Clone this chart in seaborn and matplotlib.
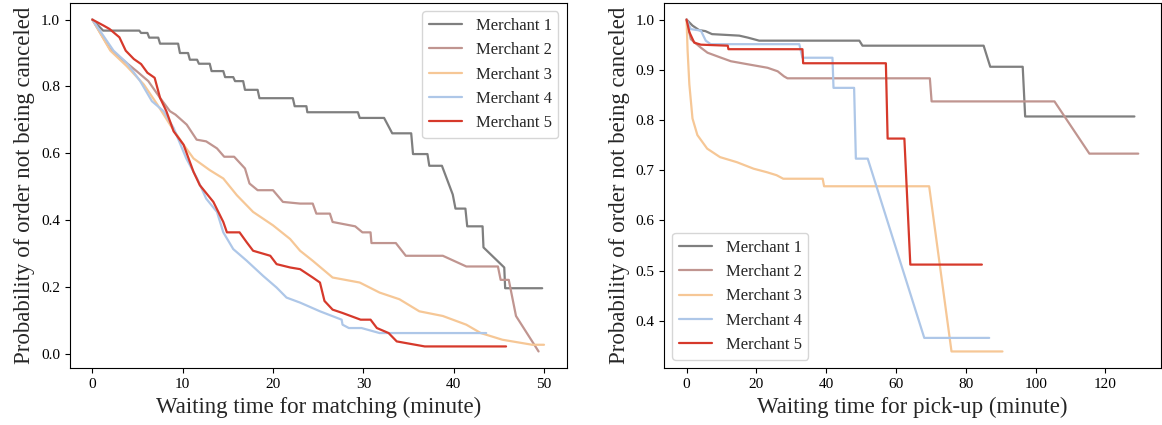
import numpy as np
import pandas as pd
import matplotlib
matplotlib.use("Agg")
import matplotlib.pyplot as plt
import seaborn as sns

merchants = ["Merchant 1", "Merchant 2", "Merchant 3", "Merchant 4", "Merchant 5"]
colors = ["#7f7f7f", "#c09590", "#f6c796", "#aec7e8", "#d6392b"]

# waiting time for matching (left panel)
match_t1 = [0, 1.2, 5.2, 5.4, 6.1, 6.3, 7.3, 7.5, 9.5, 9.7, 10.6, 10.8, 11.6, 11.8, 13.0, 13.2,
            14.5, 14.7, 15.6, 15.8, 16.7, 16.9, 18.3, 18.5, 22.2, 22.4, 23.7, 23.8, 29.4, 29.6,
            32.3, 33.2, 35.3, 35.5, 37.1, 37.3, 38.7, 39.9, 40.2, 41.3, 41.5, 43.2, 43.3, 45.6,
            45.7, 49.8]
match_p1 = [1.0, 0.967, 0.967, 0.96, 0.96, 0.946, 0.946, 0.928, 0.928, 0.90, 0.90, 0.88, 0.88,
            0.868, 0.868, 0.846, 0.846, 0.828, 0.828, 0.816, 0.816, 0.79, 0.79, 0.765, 0.765,
            0.741, 0.741, 0.723, 0.723, 0.706, 0.706, 0.66, 0.66, 0.598, 0.598, 0.563, 0.563,
            0.477, 0.435, 0.435, 0.382, 0.382, 0.319, 0.259, 0.197, 0.197]
match_t2 = [0, 2.0, 4.9, 6.2, 7.5, 8.6, 9.2, 10.45, 11.55, 12.6, 13.8, 14.6, 15.7, 16.9, 17.4,
            18.3, 20.0, 21.1, 23.0, 24.4, 24.8, 26.3, 26.6, 29.1, 29.9, 30.8, 30.9, 33.6, 34.7,
            38.8, 41.4, 44.9, 45.2, 46.1, 46.9, 49.4]
match_p2 = [1.0, 0.91, 0.846, 0.816, 0.766, 0.726, 0.716, 0.686, 0.641, 0.636, 0.615, 0.59,
            0.59, 0.555, 0.51, 0.49, 0.49, 0.455, 0.45, 0.45, 0.42, 0.42, 0.395, 0.382, 0.364,
            0.364, 0.332, 0.332, 0.294, 0.294, 0.262, 0.262, 0.222, 0.222, 0.114, 0.008]
match_t3 = [0, 2.0, 3.8, 5.7, 7.2, 8.6, 10.1, 11.2, 13.0, 14.5, 16.0, 17.8, 20.0, 21.9, 23.0,
            24.4, 26.6, 29.6, 31.8, 34.0, 36.2, 38.8, 41.4, 43.0, 45.4, 48.7, 50.0]
match_p3 = [1.0, 0.907, 0.861, 0.806, 0.746, 0.686, 0.626, 0.585, 0.55, 0.525, 0.475, 0.425,
            0.385, 0.344, 0.309, 0.279, 0.229, 0.214, 0.184, 0.164, 0.128, 0.114, 0.088, 0.063,
            0.043, 0.028, 0.028]
match_t4 = [0, 2.35, 3.8, 5.3, 6.6, 7.9, 9.0, 10.4, 11.6, 12.6, 13.8, 14.5, 15.6, 17.1, 18.9,
            20.4, 21.5, 23.0, 25.2, 27.6, 27.7, 28.4, 29.8, 31.8, 43.6]
match_p4 = [1.0, 0.907, 0.871, 0.816, 0.756, 0.726, 0.676, 0.585, 0.525, 0.465, 0.425, 0.364,
            0.314, 0.279, 0.234, 0.199, 0.169, 0.154, 0.128, 0.103, 0.088, 0.078, 0.078, 0.063,
            0.063]
match_t5 = [0, 1.25, 1.9, 3.0, 3.7, 4.6, 5.4, 6.1, 6.9, 7.5, 8.2, 9.0, 10.1, 11.2, 11.9, 13.4,
            14.5, 14.9, 16.3, 17.1, 17.8, 19.7, 20.4, 21.9, 23.0, 24.4, 25.2, 25.7, 26.6, 27.7,
            29.7, 30.8, 31.5, 32.8, 33.7, 36.8, 45.8]
match_p5 = [1.0, 0.982, 0.972, 0.947, 0.907, 0.882, 0.867, 0.841, 0.826, 0.766, 0.726, 0.666,
            0.626, 0.545, 0.505, 0.455, 0.395, 0.364, 0.364, 0.334, 0.309, 0.294, 0.269, 0.259,
            0.254, 0.229, 0.214, 0.159, 0.133, 0.123, 0.103, 0.103, 0.078, 0.063, 0.038, 0.023,
            0.023]

# waiting time for pick-up (right panel)
pick_t1 = [0, 1.7, 3.6, 5.4, 7.3, 15.1, 17.6, 20.8, 49.5, 50.4, 85.1, 87.0, 96.3, 97.0, 128.3]
pick_p1 = [1.0, 0.988, 0.979, 0.977, 0.971, 0.968, 0.964, 0.958, 0.958, 0.948, 0.948, 0.906,
           0.906, 0.807, 0.807]
pick_t2 = [0, 1.2, 4.1, 6.0, 9.9, 12.7, 17.5, 23.2, 26.1, 27.9, 28.9, 69.7, 70.2, 105.4, 115.4,
           129.4]
pick_p2 = [1.0, 0.961, 0.944, 0.934, 0.924, 0.917, 0.911, 0.904, 0.897, 0.887, 0.883, 0.883,
           0.837, 0.837, 0.733, 0.733]
pick_t3 = [0, 0.3, 0.8, 1.7, 3.1, 5.9, 9.6, 14.4, 19.2, 23.0, 25.8, 27.7, 39.0, 39.4, 69.5, 75.9,
           90.5]
pick_p3 = [1.0, 0.938, 0.871, 0.803, 0.77, 0.743, 0.726, 0.716, 0.703, 0.696, 0.69, 0.683, 0.683,
           0.668, 0.668, 0.339, 0.339]
pick_t4 = [0, 1.2, 4.1, 5.5, 6.9, 32.3, 33.2, 41.8, 42.1, 48.0, 48.5, 51.9, 68.1, 86.7]
pick_p4 = [1.0, 0.981, 0.978, 0.958, 0.951, 0.951, 0.924, 0.924, 0.864, 0.864, 0.723, 0.723,
           0.366, 0.366]
pick_t5 = [0, 0.8, 2.2, 4.1, 11.8, 12.0, 33.2, 33.4, 57.1, 57.6, 62.4, 64.1, 84.6]
pick_p5 = [1.0, 0.975, 0.954, 0.95, 0.948, 0.941, 0.941, 0.913, 0.913, 0.763, 0.763, 0.512, 0.512]


def long_frame(ts, ps):
    rows = []
    for name, t, p in zip(merchants, ts, ps):
        for i, (x, y) in enumerate(zip(t, p)):
            rows.append({"merchant": name, "order": i, "time": x, "prob": y})
    return pd.DataFrame(rows)


match_df = long_frame([match_t1, match_t2, match_t3, match_t4, match_t5],
                      [match_p1, match_p2, match_p3, match_p4, match_p5])
pick_df = long_frame([pick_t1, pick_t2, pick_t3, pick_t4, pick_t5],
                     [pick_p1, pick_p2, pick_p3, pick_p4, pick_p5])

sns.set_style("ticks")
plt.rcParams["font.family"] = ["Liberation Serif", "DejaVu Serif"]
plt.rcParams["axes.edgecolor"] = "black"
plt.rcParams["xtick.color"] = "black"
plt.rcParams["ytick.color"] = "black"

fig, axes = plt.subplots(1, 2, figsize=(11.62, 4.25), dpi=100)
fig.subplots_adjust(left=0.060, right=0.999, top=0.993, bottom=0.134, wspace=0.196)

for ax, df, xlabel, loc in [(axes[0], match_df, "Waiting time for matching (minute)", "upper right"),
                            (axes[1], pick_df, "Waiting time for pick-up (minute)", "lower left")]:
    sns.lineplot(data=df, x="time", y="prob", hue="merchant", units="merchant",
                 estimator=None, sort=False, palette=colors, linewidth=1.6, ax=ax)
    ax.set_xlabel(xlabel, fontsize=16.5)
    ax.set_ylabel("Probability of order not being canceled", fontsize=16.5)
    ax.tick_params(labelsize=11)
    ax.legend(loc=loc, fontsize=12, title=None)

axes[1].set_xticks([0, 20, 40, 60, 80, 100, 120])

fig.savefig("out.png", dpi=100)
